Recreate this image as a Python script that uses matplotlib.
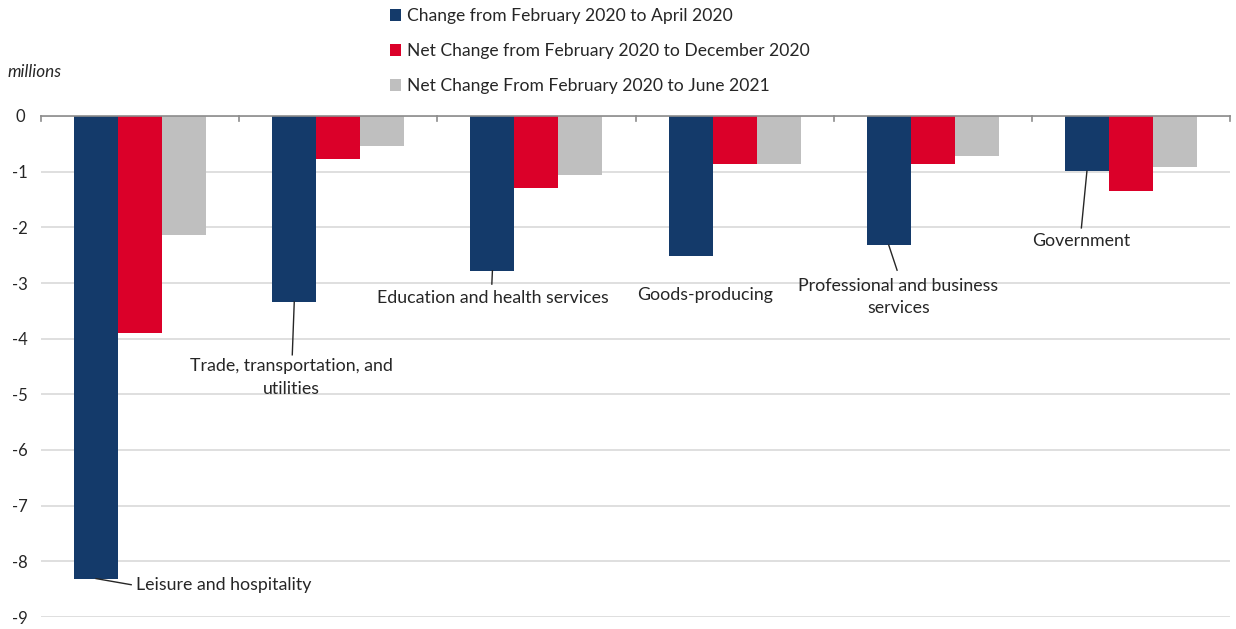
import matplotlib
matplotlib.use("Agg")
import matplotlib.pyplot as plt
import numpy as np

categories = ["Leisure and hospitality", "Trade, transportation, and\nutilities",
              "Education and health services", "Goods-producing",
              "Professional and business\nservices", "Government"]
series_names = ["Change from February 2020 to April 2020",
                "Net Change from February 2020 to December 2020",
                "Net Change From February 2020 to June 2021"]
apr2020 = [-8.31, -3.34, -2.78, -2.51, -2.32, -0.99]
dec2020 = [-3.90, -0.77, -1.29, -0.86, -0.86, -1.35]
jun2021 = [-2.14, -0.54, -1.06, -0.86, -0.72, -0.92]
yticks = list(range(0, -10, -1))

colors = ["#143A6A", "#DB0029", "#BFBFBF"]
plt.rcParams['font.family'] = ['Lato', 'DejaVu Sans']
txtc = "#262626"

fig = plt.figure(figsize=(12.36, 6.29), dpi=100)
ax = fig.add_axes([41/1236, 1-617/629, 1189/1236, (617-116)/629])

x = np.arange(len(categories))
w = 0.222
handles = []
for i, (vals, c, name) in enumerate(zip([apr2020, dec2020, jun2021], colors, series_names)):
    b = ax.bar(x + (i-1)*w, vals, width=w, color=c, label=name, zorder=3)
    handles.append(b)

ax.set_xlim(-0.5, len(categories)-0.5)
ax.set_ylim(-9, 0)
ax.set_yticks(yticks)
ax.set_yticklabels([str(v) for v in yticks])
ax.yaxis.grid(True, color="#D9D9D9", linewidth=1.2, zorder=0)
ax.set_xticks([])
for s in ["left", "right", "bottom"]:
    ax.spines[s].set_visible(False)
ax.spines["top"].set_color("#8C8C8C")
ax.spines["top"].set_linewidth(1.2)
ax.spines["top"].set_zorder(4)
ax.tick_params(axis="y", length=0, pad=15, labelsize=12, labelcolor=txtc)
for lbl in ax.get_yticklabels():
    lbl.set_horizontalalignment("center")
# category separators on the zero line
for b in np.arange(-0.5, len(categories)):
    ax.plot([b, b], [0, -0.09], color="#8C8C8C", lw=1.2, zorder=4, clip_on=False)

# annotations
ann = [
    (0, (-0.02, -8.42), "left", (-0.045, -8.42)),
    (1, (0.763, -4.70), "center", (0.768, -4.29)),
    (2, (1.78, -3.27), "center", (1.775, -3.02)),
    (3, (2.85, -3.22), "center", None),
    (4, (3.826, -3.25), "center", (3.82, -2.77)),
    (5, (4.75, -2.25), "center", (4.75, -2.01)),
]
for idx, pos, ha, lineend in ann:
    ax.text(pos[0], pos[1], categories[idx], ha=ha, va="center", fontsize=12.8,
            color=txtc, linespacing=1.5, zorder=5)
    if lineend is not None:
        ax.plot([x[idx]-w, lineend[0]], [apr2020[idx], lineend[1]], color="#262626",
                lw=1.0, zorder=5)

fig.text(8/1236, 1-72/629, "millions", style="italic", fontsize=12.3, color=txtc, va="center")

fig.legend(handles=handles, labels=series_names, loc="upper left",
           bbox_to_anchor=(379/1236, 1.004), frameon=False, fontsize=12.6,
           handlelength=0.65, handleheight=0.65, handletextpad=0.35,
           labelspacing=1.1, labelcolor=txtc, borderaxespad=0.2)

fig.savefig("out.png", dpi=100, facecolor="white")
